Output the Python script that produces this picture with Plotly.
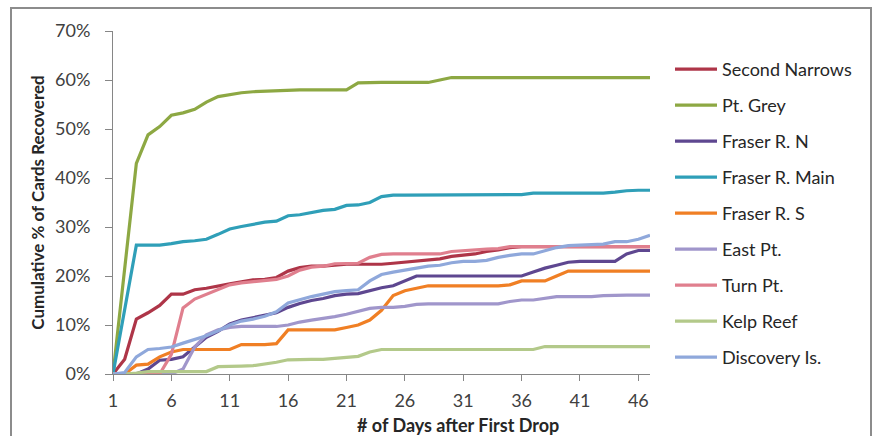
import plotly.graph_objects as go

days = list(range(1, 48))

second_narrows = [0, 3, 11.2, 12.5, 14, 16.3, 16.3, 17.2, 17.5, 18, 18.4, 18.8, 19.2, 19.3, 19.7, 21, 21.7, 22, 22, 22.2,
                  22.4, 22.4, 22.4, 22.4, 22.6, 22.8, 23, 23.3, 23.5, 24, 24.2, 24.5, 25, 25.3, 25.8, 26, 26, 26, 26, 26,
                  26, 26, 26, 26, 26, 26, 26]
pt_grey = [0, 21.5, 43, 48.8, 50.5, 52.8, 53.3, 54, 55.5, 56.6, 57, 57.4, 57.6, 57.7, 57.9, 58, 58, 58, 58, 58,
           58, 59.4, 59.5, 59.5, 59.5, 59.5, 59.5, 59.5, 60, 60.5, 60.5, 60.5, 60.5, 60.5, 60.5, 60.5, 60.5, 60.5, 60.5, 60.5,
           60.5, 60.5, 60.5, 60.5, 60.5, 60.5, 60.5]
fraser_n = [0, 0, 0, 1, 2.8, 3, 3.5, 5.5, 7.5, 8.7, 10.2, 11, 11.5, 12, 12.5, 13.6, 14.4, 15, 15.4, 16,
            16.3, 16.4, 17, 17.6, 18, 19, 20, 20, 20, 20, 20, 20, 20, 20, 20, 20, 20.8, 21.6, 22.2, 22.8,
            23, 23, 23, 23, 24.5, 25.2, 25.2]
fraser_main = [0, 13, 26.3, 26.3, 26.3, 26.6, 27, 27.2, 27.5, 28.5, 29.6, 30.1, 30.6, 31, 31.2, 32.3, 32.5, 33, 33.4, 33.6,
               34.4, 34.5, 35, 36.2, 36.5, 36.5, 36.5, 36.5, 36.5, 36.5, 36.5, 36.5, 36.5, 36.5, 36.5, 36.6, 36.9, 36.9, 36.9, 36.9,
               36.9, 36.9, 36.9, 37.1, 37.4, 37.5, 37.5]
fraser_s = [0, 0, 1.8, 2, 3.5, 4.5, 5, 5, 5, 5, 5, 6, 6, 6, 6.2, 9, 9, 9, 9, 9,
            9.5, 10, 11, 13, 16, 17, 17.5, 18, 18, 18, 18, 18, 18, 18, 18.2, 19, 19, 19, 20, 21,
            21, 21, 21, 21, 21, 21, 21]
east_pt = [0, 0, 0, 0, 0, 0, 1, 5.5, 8, 9, 9.5, 9.7, 9.7, 9.7, 9.7, 10, 10.6, 11, 11.3, 11.7,
           12.2, 12.8, 13.4, 13.6, 13.6, 13.8, 14.2, 14.3, 14.3, 14.3, 14.3, 14.3, 14.3, 14.3, 14.8, 15.1, 15.1, 15.5, 15.8, 15.8,
           15.8, 15.8, 16, 16.1, 16.1, 16.1, 16.1]
turn_pt = [0, 0, 0, 0, 0, 4, 13.5, 15.3, 16.3, 17.3, 18.2, 18.6, 18.8, 19, 19.3, 20, 21.2, 21.8, 22, 22.5,
           22.6, 22.6, 23.8, 24.4, 24.5, 24.5, 24.5, 24.5, 24.5, 25, 25.2, 25.3, 25.5, 25.6, 26, 26, 26, 26, 26, 26,
           26, 26, 26, 26, 26, 26, 26]
kelp_reef = [0, 0, 0.2, 0.5, 0.5, 0.5, 0.5, 0.5, 0.5, 1.5, 1.5, 1.6, 1.7, 2, 2.4, 2.9, 3, 3, 3, 3.2,
             3.5, 3.6, 4.5, 5, 5, 5, 5, 5, 5, 5, 5, 5, 5, 5, 5, 5, 5, 5.6, 5.6, 5.6,
             5.6, 5.6, 5.6, 5.6, 5.6, 5.6, 5.6]
discovery_is = [0, 0.3, 3.5, 5, 5.2, 5.5, 6.3, 7, 7.8, 8.8, 10, 10.8, 11.2, 11.8, 12.7, 14.5, 15.2, 15.8, 16.3, 16.8,
                17, 17.2, 19, 20.3, 20.8, 21.2, 21.6, 22, 22.2, 22.7, 23, 23, 23.2, 23.8, 24.2, 24.5, 24.5, 25.2, 25.8, 26.2,
                26.3, 26.4, 26.5, 27, 27, 27.5, 28.3]

series_names = ["Second Narrows", "Pt. Grey", "Fraser R. N", "Fraser R. Main", "Fraser R. S",
                "East Pt.", "Turn Pt.", "Kelp Reef", "Discovery Is."]
series_values = [second_narrows, pt_grey, fraser_n, fraser_main, fraser_s, east_pt, turn_pt, kelp_reef, discovery_is]
series_colors = ["#AE3548", "#8DA843", "#5E4790", "#2F9FB8", "#F07F24", "#A096CB", "#E07F8E", "#B3C98A", "#8FA8DB"]

x_ticks = [1, 6, 11, 16, 21, 26, 31, 36, 41, 46]
y_ticks = [0, 0.1, 0.2, 0.3, 0.4, 0.5, 0.6, 0.7]
x_title = "# of Days after First Drop"
y_title = "Cumulative % of Cards Recovered"

FONT = "Lato"

fig = go.Figure()
for i, (name, vals, col) in enumerate(zip(series_names, series_values, series_colors)):
    fig.add_trace(go.Scatter(
        x=days, y=[v / 100 for v in vals], mode="lines", name=name,
        line=dict(color=col, width=3.2), legendgroup=f"g{i}",
    ))

L, R, T, B = 113, 650, 31, 374
W, H = 875, 436
pw, ph = R - L, B - T

def px_x(p):
    return (p - L) / pw

def px_y(p):
    return (B - p) / ph

fig.add_shape(type="rect", xref="paper", yref="paper",
              x0=px_x(11), x1=px_x(871), y0=px_y(445), y1=px_y(8),
              line=dict(color="#8C8C8C", width=2), layer="below")

fig.add_annotation(text=f"<b>{x_title}</b>", xref="paper", yref="paper",
                   x=px_x(458), y=px_y(425), xanchor="center", yanchor="middle",
                   showarrow=False, font=dict(family=FONT, size=18, color="#262626"))

fig.update_layout(
    width=W, height=H,
    margin=dict(l=L, r=W - R, t=T, b=H - B),
    paper_bgcolor="white", plot_bgcolor="white",
    font=dict(family=FONT, color="#333333"),
    showlegend=True,
    legend=dict(
        x=px_x(670), y=px_y(51), xanchor="left", yanchor="top",
        font=dict(family=FONT, size=18, color="#262626"),
        tracegroupgap=9.6, itemwidth=42, bgcolor="rgba(0,0,0,0)",
    ),
    xaxis=dict(
        range=[1, 47], tickmode="array", tickvals=x_ticks, ticktext=[str(t) for t in x_ticks],
        showgrid=False, zeroline=False, showline=True, linecolor="#868686", linewidth=1,
        ticks="outside", ticklen=6, tickcolor="#868686", ticklabelstandoff=4,
        tickfont=dict(family=FONT, size=18, color="#404040"),
    ),
    yaxis=dict(
        range=[0, 0.7], tickmode="array", tickvals=y_ticks, tickformat=".0%",
        showgrid=False, zeroline=False, showline=True, linecolor="#868686", linewidth=1,
        ticks="outside", ticklen=7, tickcolor="#868686", ticklabelstandoff=11,
        tickfont=dict(family=FONT, size=18, color="#404040"),
        title=dict(text=f"<b>{y_title}</b>", font=dict(family=FONT, size=17, color="#262626"), standoff=6),
    ),
)

fig.write_html("out.html")
